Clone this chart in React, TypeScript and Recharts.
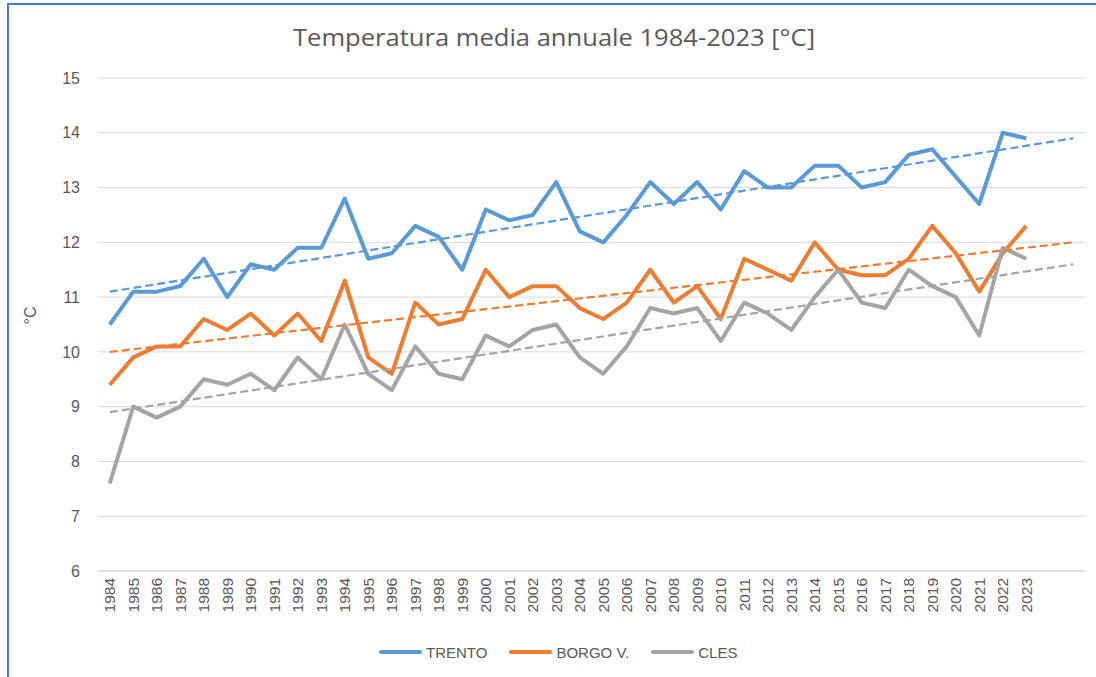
import React from 'react'
import { LineChart, Line, XAxis, YAxis, CartesianGrid, Legend } from 'recharts'

const years = [
  '1984', '1985', '1986', '1987', '1988', '1989', '1990', '1991', '1992', '1993',
  '1994', '1995', '1996', '1997', '1998', '1999', '2000', '2001', '2002', '2003',
  '2004', '2005', '2006', '2007', '2008', '2009', '2010', '2011', '2012', '2013',
  '2014', '2015', '2016', '2017', '2018', '2019', '2020', '2021', '2022', '2023',
]
// two unlabelled slots the trend lines run into
const forecastSlots = ['2024', '2025']

const trento = [
  10.5, 11.1, 11.1, 11.2, 11.7, 11.0, 11.6, 11.5, 11.9, 11.9,
  12.8, 11.7, 11.8, 12.3, 12.1, 11.5, 12.6, 12.4, 12.5, 13.1,
  12.2, 12.0, 12.5, 13.1, 12.7, 13.1, 12.6, 13.3, 13.0, 13.0,
  13.4, 13.4, 13.0, 13.1, 13.6, 13.7, 13.2, 12.7, 14.0, 13.9,
]
const borgo = [
  9.4, 9.9, 10.1, 10.1, 10.6, 10.4, 10.7, 10.3, 10.7, 10.2,
  11.3, 9.9, 9.6, 10.9, 10.5, 10.6, 11.5, 11.0, 11.2, 11.2,
  10.8, 10.6, 10.9, 11.5, 10.9, 11.2, 10.6, 11.7, 11.5, 11.3,
  12.0, 11.5, 11.4, 11.4, 11.7, 12.3, 11.8, 11.1, 11.8, 12.3,
]
const cles = [
  7.6, 9.0, 8.8, 9.0, 9.5, 9.4, 9.6, 9.3, 9.9, 9.5,
  10.5, 9.6, 9.3, 10.1, 9.6, 9.5, 10.3, 10.1, 10.4, 10.5,
  9.9, 9.6, 10.1, 10.8, 10.7, 10.8, 10.2, 10.9, 10.7, 10.4,
  11.0, 11.5, 10.9, 10.8, 11.5, 11.2, 11.0, 10.3, 11.9, 11.7,
]

// linear trend end points [1984, 2025]
const trentoTrend = [11.1, 13.9]
const borgoTrend = [10.0, 12.0]
const clesTrend = [8.9, 11.6]

const yTicks = [6, 7, 8, 9, 10, 11, 12, 13, 14, 15]

const BLUE = '#5B9BD5'
const ORANGE = '#ED7D31'
const GREY = '#A5A5A5'
const TEXT = '#595959'
const GRID = '#D9D9D9'

const categories = [...years, ...forecastSlots]
const last = categories.length - 1
const trendAt = (t: number[], i: number) => (i === 0 ? t[0] : i === last ? t[1] : null)

const data = categories.map((year, i) => ({
  year,
  trento: trento[i] ?? null,
  borgo: borgo[i] ?? null,
  cles: cles[i] ?? null,
  trentoTrend: trendAt(trentoTrend, i),
  borgoTrend: trendAt(borgoTrend, i),
  clesTrend: trendAt(clesTrend, i),
}))

const legendItems = [
  { name: 'TRENTO', color: BLUE },
  { name: 'BORGO V.', color: ORANGE },
  { name: 'CLES', color: GREY },
]

const YearTick = (props: any) => {
  const { x, y, payload } = props
  if (!years.includes(payload.value)) return null
  return (
    <text x={x} y={y} dy="0.36em" transform={`rotate(-90, ${x}, ${y})`} textAnchor="end"
      fill={TEXT} fontSize={15.5} fontFamily="Liberation Sans, Arial, sans-serif">
      {payload.value}
    </text>
  )
}

const renderLegend = () => (
  <div style={{ display: 'flex', alignItems: 'center', height: 20, fontFamily: 'Liberation Sans, Arial, sans-serif', fontSize: 15, color: TEXT }}>
    {legendItems.map(it => (
      <div key={it.name} style={{ display: 'flex', alignItems: 'center', marginRight: 22 }}>
        <span style={{ display: 'inline-block', width: 43, height: 4, borderRadius: 2, background: it.color, marginRight: 4 }} />
        <span>{it.name}</span>
      </div>
    ))}
  </div>
)

export default function App() {
  return (
    <div style={{ position: 'fixed', left: 0, top: 0, width: 1096, height: 677, background: '#fff', overflow: 'hidden' }}>
      <div style={{ position: 'absolute', left: 7, top: 3, right: -4, bottom: -4, borderTop: '2px solid #4A7BD0', borderLeft: '2px solid #4A7BD0' }} />
      <svg width={1096} height={60} style={{ position: 'absolute', left: 0, top: 0 }}>
        <text x={554} y={46} textAnchor="middle" fill={TEXT} fontSize={24} fontFamily="Open Sans, sans-serif"
          textLength={522} lengthAdjust="spacingAndGlyphs">
          Temperatura media annuale 1984-2023 [°C]
        </text>
      </svg>
      <div style={{ position: 'absolute', left: 0, top: 0 }}>
        <LineChart width={1096} height={677} data={data} margin={{ top: 78, right: 11, left: 8, bottom: 15 }}>
          <CartesianGrid horizontal vertical={false} stroke={GRID} strokeWidth={1} />
          <XAxis dataKey="year" type="category" interval={0} height={71} tick={<YearTick />}
            tickLine={false} tickSize={0} tickMargin={7} axisLine={{ stroke: GRID }}
            padding={{ left: 11.75, right: 11.75 }} />
          <YAxis type="number" domain={[6, 15]} ticks={yTicks} interval={0} width={90}
            tickLine={false} axisLine={false} tickSize={0} tickMargin={18}
            tick={{ fill: TEXT, fontSize: 16, fontFamily: 'Liberation Sans, Arial, sans-serif' }}
            label={{ value: '°C', angle: -90, position: 'insideLeft', offset: 22, dy: 0, fill: TEXT, fontSize: 16, fontFamily: 'Liberation Sans, Arial, sans-serif' }} />
          <Legend verticalAlign="bottom" content={renderLegend} wrapperStyle={{ left: 379, width: 'auto' }} />
          <Line type="linear" dataKey="trento" name="TRENTO" stroke={BLUE} strokeWidth={4} dot={false} strokeLinejoin="round" isAnimationActive={false} />
          <Line type="linear" dataKey="borgo" name="BORGO V." stroke={ORANGE} strokeWidth={4} dot={false} strokeLinejoin="round" isAnimationActive={false} />
          <Line type="linear" dataKey="cles" name="CLES" stroke={GREY} strokeWidth={4} dot={false} strokeLinejoin="round" isAnimationActive={false} />
          <Line type="linear" dataKey="trentoTrend" stroke={BLUE} strokeWidth={2.2} strokeDasharray="8 4" dot={false} connectNulls legendType="none" isAnimationActive={false} />
          <Line type="linear" dataKey="borgoTrend" stroke={ORANGE} strokeWidth={2.2} strokeDasharray="8 4" dot={false} connectNulls legendType="none" isAnimationActive={false} />
          <Line type="linear" dataKey="clesTrend" stroke={GREY} strokeWidth={2.2} strokeDasharray="8 4" dot={false} connectNulls legendType="none" isAnimationActive={false} />
        </LineChart>
      </div>
    </div>
  )
}
